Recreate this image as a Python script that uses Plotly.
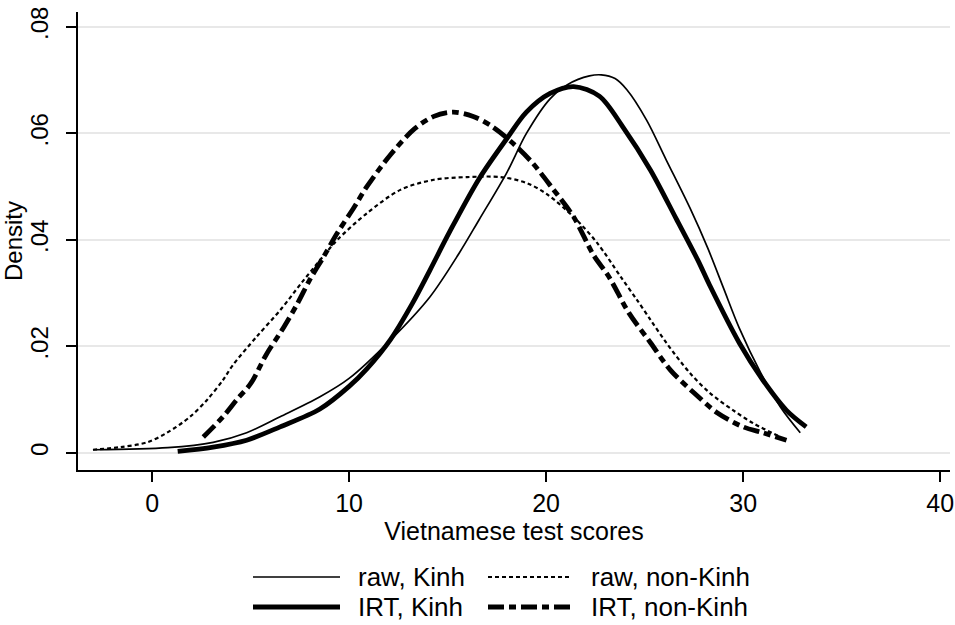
import plotly.graph_objects as go

# ---------------- data ----------------
raw_kinh_x = [-3.0, 0.8, 3.1, 4.8, 6.5, 8.5, 10.0, 12.1, 14.1, 15.6, 16.6, 18.0, 19.0, 20.2,
              21.1, 22.2, 22.8, 23.5, 24.1, 25.1, 26.1, 27.3, 28.2, 29.0, 29.8, 30.9, 31.9, 32.9]
raw_kinh_y = [0.0006, 0.0010, 0.0020, 0.0038, 0.0068, 0.0105, 0.0140, 0.0212, 0.0293, 0.0376,
              0.0438, 0.0526, 0.0600, 0.0665, 0.0692, 0.0708, 0.0710, 0.0703, 0.0682, 0.0625,
              0.0550, 0.0460, 0.0385, 0.0310, 0.0235, 0.0150, 0.0086, 0.0038]

irt_kinh_x = [1.3, 3.1, 4.8, 6.5, 8.5, 10.0, 10.9, 12.1, 13.2, 14.1, 15.1, 16.6, 18.0, 19.0,
              20.2, 21.4, 22.7, 23.9, 25.3, 26.6, 27.7, 28.3, 29.8, 31.0, 32.2, 33.2]
irt_kinh_y = [0.0003, 0.0011, 0.0024, 0.0049, 0.0082, 0.0125, 0.0158, 0.0213, 0.0280, 0.0343,
              0.0415, 0.0515, 0.0590, 0.0640, 0.0675, 0.0688, 0.0670, 0.0612, 0.0531, 0.0440,
              0.0362, 0.0315, 0.0207, 0.0137, 0.0080, 0.0049]

raw_nonkinh_x = [-3.0, -1.6, -0.25, 0.76, 1.93, 2.8, 3.6, 4.1, 5.3, 6.5, 7.6, 8.7, 9.4, 10.9,
                 12.6, 14.3, 16.0, 17.7, 19.0, 20.0, 21.4, 22.6, 23.8, 24.6, 25.3, 26.1, 27.3,
                 28.3, 29.5, 30.5, 31.9]
raw_nonkinh_y = [0.0006, 0.0011, 0.0020, 0.0038, 0.0068, 0.0100, 0.0137, 0.0165, 0.0218, 0.0268,
                 0.0320, 0.0370, 0.0400, 0.0450, 0.0494, 0.0513, 0.0518, 0.0518, 0.0507, 0.0487,
                 0.0443, 0.0394, 0.0330, 0.0288, 0.0250, 0.0207, 0.0150, 0.0113, 0.0080, 0.0056,
                 0.0030]

irt_nonkinh_x = [2.6, 3.6, 4.3, 5.0, 5.8, 6.7, 7.4, 8.0, 8.7, 9.4, 10.2, 10.9, 12.1, 13.3, 14.3,
                 15.3, 16.3, 17.3, 18.3, 19.3, 20.3, 21.4, 22.4, 23.2, 24.2, 25.3, 26.3, 27.5,
                 28.7, 30.0, 31.0, 32.2]
irt_nonkinh_y = [0.0030, 0.0068, 0.0100, 0.0130, 0.0185, 0.0237, 0.0282, 0.0325, 0.0368, 0.0413,
                 0.0458, 0.0500, 0.0560, 0.0608, 0.0632, 0.0640, 0.0632, 0.0612, 0.0582, 0.0545,
                 0.0498, 0.0443, 0.0372, 0.0330, 0.0263, 0.0207, 0.0156, 0.0113, 0.0075, 0.0049,
                 0.0038, 0.0024]

y_tickvals = [0, 0.02, 0.04, 0.06, 0.08]
y_ticktext = ["0", ".02", ".04", ".06", ".08"]
x_tickvals = [0, 10, 20, 30, 40]
x_ticktext = ["0", "10", "20", "30", "40"]

series_names = ["raw, Kinh", "raw, non-Kinh", "IRT, Kinh", "IRT, non-Kinh"]

# ---------------- styling ----------------
FONT = "Liberation Sans, Arial, sans-serif"
FS = 25
styles = {
    "raw, Kinh": dict(color="black", width=1.7, dash="solid"),
    "IRT, Kinh": dict(color="black", width=4.8, dash="solid"),
    "raw, non-Kinh": dict(color="black", width=2.2, dash="4px,3px"),
    "IRT, non-Kinh": dict(color="black", width=4.8, dash="16px,5px,7px,5px"),
}
data = {
    "raw, Kinh": (raw_kinh_x, raw_kinh_y),
    "raw, non-Kinh": (raw_nonkinh_x, raw_nonkinh_y),
    "IRT, Kinh": (irt_kinh_x, irt_kinh_y),
    "IRT, non-Kinh": (irt_nonkinh_x, irt_nonkinh_y),
}

W, H = 955, 625
ML, MR, MT, MB = 78, 5, 12, 155

fig = go.Figure()
for name in ["raw, non-Kinh", "IRT, non-Kinh", "raw, Kinh", "IRT, Kinh"]:
    xs, ys = data[name]
    fig.add_trace(go.Scatter(x=xs, y=ys, mode="lines", name=name,
                             line=dict(shape="spline", smoothing=0.9, **styles[name]),
                             showlegend=False, hoverinfo="skip"))

# ---------------- manual legend (two columns, two rows) ----------------
pw, ph = W - ML - MR, H - MT - MB
def px2paper_x(px):
    return (px - ML) / pw
def px2paper_y(py):
    return (H - MB - py) / ph

legend_layout = [
    ("raw, Kinh", 253, 340, 356, 577),
    ("raw, non-Kinh", 488, 572, 589, 577),
    ("IRT, Kinh", 253, 340, 356, 607),
    ("IRT, non-Kinh", 488, 572, 589, 607),
]
shapes, annotations = [], []
for name, x0, x1, tx, yy in legend_layout:
    st = styles[name]
    shapes.append(dict(type="line", xref="paper", yref="paper",
                       x0=px2paper_x(x0), x1=px2paper_x(x1),
                       y0=px2paper_y(yy), y1=px2paper_y(yy),
                       line=dict(color=st["color"], width=st["width"], dash=st["dash"])))
    annotations.append(dict(xref="paper", yref="paper", x=px2paper_x(tx), y=px2paper_y(yy),
                            text=name, showarrow=False, xanchor="left", yanchor="middle",
                            font=dict(family=FONT, size=FS + 1, color="black")))

fig.update_layout(
    width=W, height=H,
    margin=dict(l=ML, r=MR, t=MT, b=MB, pad=0),
    paper_bgcolor="white", plot_bgcolor="white",
    font=dict(family=FONT, size=FS, color="black"),
    showlegend=False,
    shapes=shapes, annotations=annotations,
)
fig.update_xaxes(
    range=[-3.76, 40.5], tickvals=x_tickvals, ticktext=x_ticktext,
    showgrid=False, zeroline=False, showline=True, linecolor="black", linewidth=2,
    ticks="outside", ticklen=10, tickwidth=1.5, tickcolor="black",
    tickfont=dict(family=FONT, size=FS, color="black"),
    title=dict(text="Vietnamese test scores", standoff=0,
               font=dict(family=FONT, size=FS, color="black")),
    automargin=False,
)
fig.update_yaxes(
    range=[-0.0032, 0.0828], tickvals=y_tickvals, ticktext=y_ticktext, tickangle=-90,
    showgrid=True, gridcolor="#e8e8e8", gridwidth=1.5, zeroline=False,
    showline=True, linecolor="black", linewidth=2,
    ticks="outside", ticklen=10, tickwidth=1.5, tickcolor="black",
    tickfont=dict(family=FONT, size=FS - 1, color="black"), ticklabelstandoff=8,
    title=dict(text="Density", standoff=2, font=dict(family=FONT, size=FS - 1, color="black")),
    automargin=False,
)

fig.write_html("out.html")
